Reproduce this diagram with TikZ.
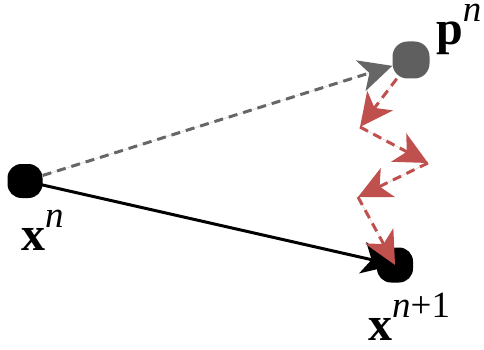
\documentclass[tikz,border=0pt]{standalone}
\usepackage{fontspec}
\setmainfont{Liberation Serif}
\usetikzlibrary{arrows.meta}
\definecolor{dotgray}{HTML}{5F5F5F}
\definecolor{arrgray}{HTML}{666666}
\definecolor{arrred}{HTML}{C0504D}
\newcommand{\lbl}[2]{\fontsize{48}{50}\selectfont\textbf{#1}\raisebox{23pt}{\fontsize{37}{40}\selectfont #2}}
\begin{document}
\begin{tikzpicture}[x=1pt,y=-1pt,
  dotnode/.style={draw=none,minimum width=35pt,minimum height=34pt,rounded corners=14pt,inner sep=0pt},
  bigtip/.style={-{Stealth[length=33pt,width=32pt,inset=9pt]}},
  conn/.style={line width=3pt},
  dashconn/.style={line width=3pt,dash pattern=on 9pt off 6pt},
  lab/.style={anchor=base west,inner sep=0pt}]
\useasboundingbox (0,0) rectangle (484,350);
\node[dotnode,fill=black] (xn) at (25,181) {};
\node[dotnode,fill=dotgray,minimum width=37pt,minimum height=37pt,rounded corners=15pt] (pn) at (411,60) {};
\node[dotnode,fill=black,minimum width=36pt,minimum height=35pt] (xn1) at (395,265) {};
\coordinate (c1) at (360,127);
\coordinate (c2) at (428,163);
\coordinate (c3) at (358,197);
\draw[dashconn,bigtip,draw=arrgray,fill=arrgray] (xn) -- (pn);
\draw[conn,bigtip,draw=black,fill=black] (xn.center) -- (xn1.center);
\draw[dashconn,bigtip,draw=arrred,fill=arrred] (pn) -- (c1);
\draw[dashconn,bigtip,draw=arrred,fill=arrred] (c1) -- (c2);
\draw[dashconn,bigtip,draw=arrred,fill=arrred] (c2) -- (c3);
\draw[dashconn,bigtip,draw=arrred,fill=arrred] (c3) -- (xn1.center);
\node[lab] (lp) at (436,45) {\lbl{p}{\textit{n}}};
\node[lab] (lx) at (21,250) {\lbl{x}{\textit{n}}};
\node[lab] (lx1) at (368,340) {\lbl{x}{\textit{n}+1}};
\end{tikzpicture}
\end{document}
